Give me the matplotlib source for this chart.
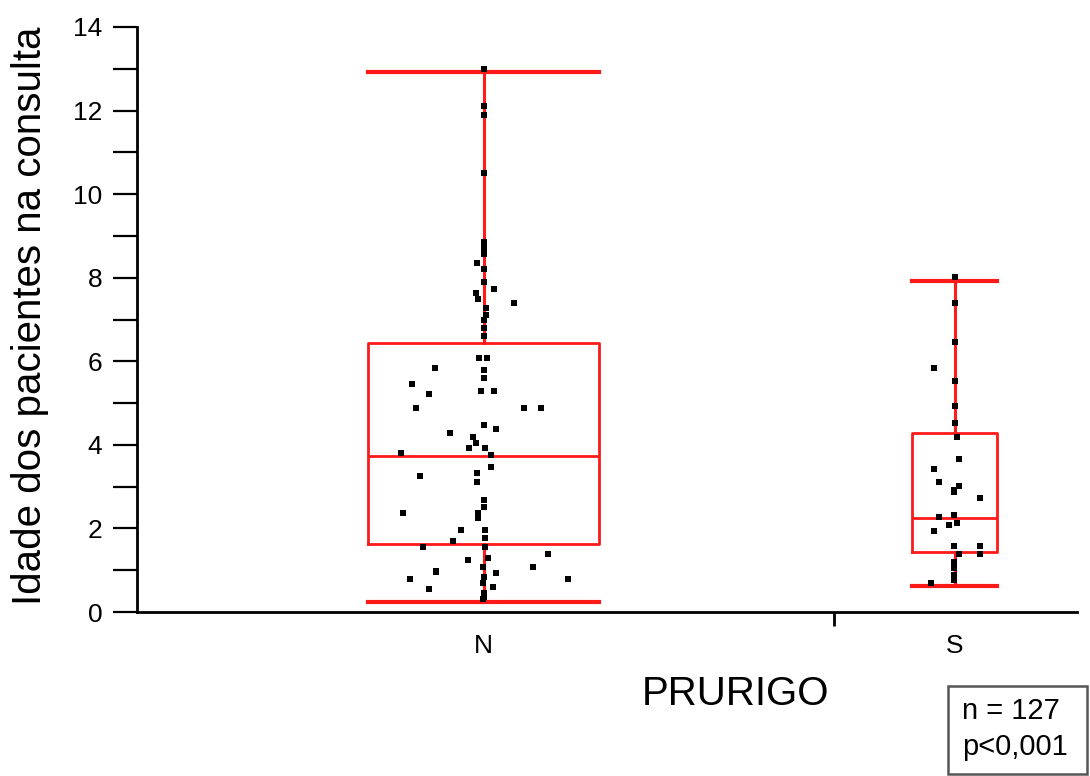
import numpy as np
import matplotlib.pyplot as plt
from matplotlib.ticker import MultipleLocator, FixedLocator
from matplotlib.patches import Rectangle

plt.rcParams['font.family'] = ['Liberation Sans', 'DejaVu Sans']

groups = ['N', 'S']
positions = [1, 2]

# box stats (whisker low, Q1, median, Q3, whisker high)
n_stats = [0.24, 1.63, 3.73, 6.44, 12.92]
s_stats = [0.62, 1.44, 2.25, 4.28, 7.92]

# scatter points: (offset from group centre, value)
n_dx = [0.0, 0.0, 0.0, 0.0, 0.0, 0.0, 0.0, -0.013, 0.0, 0.0, 0.021, -0.017, -0.011,
        0.064, 0.006, 0.006, 0.0, 0.0, 0.0,
        -0.009, 0.008, 0.0, 0.0, -0.104, -0.152, -0.117, -0.006, 0.021, -0.143,
        0.085, 0.121, 0.0, 0.026, -0.072, -0.023, -0.017, -0.032, 0.004, -0.175,
        0.015, 0.015, -0.013, -0.136, -0.013, 0.0, 0.0, -0.171, -0.011, -0.011,
        -0.049, 0.004, -0.064, 0.004, -0.128, 0.002, 0.136, -0.034, 0.009, 0.104,
        -0.102, -0.102, 0.026, -0.157, 0.179, -0.002, 0.0, -0.002, 0.019, -0.117,
        0.0, 0.0, -0.002]
n_val = [13.0, 12.1, 11.9, 10.5, 8.85, 8.7, 8.57, 8.35, 8.2, 7.9, 7.73, 7.63, 7.5,
         7.39, 7.27, 7.1, 7.0, 6.8, 6.6,
         6.08, 6.08, 5.79, 5.6, 5.84, 5.45, 5.22, 5.29, 5.29, 4.88,
         4.88, 4.88, 4.47, 4.38, 4.28, 4.19, 4.04, 3.92, 3.92, 3.8,
         3.76, 3.47, 3.33, 3.26, 3.11, 2.68, 2.51, 2.37, 2.37, 2.25,
         1.96, 1.96, 1.7, 1.77, 1.56, 1.56, 1.39, 1.24, 1.29, 1.08,
         0.99, 0.95, 0.93, 0.79, 0.79, 1.08, 0.84, 0.69, 0.6, 0.55,
         0.45, 0.36, 0.3]

s_dx = [0.0, 0.0, 0.0, -0.043, 0.0, 0.0, 0.0, 0.006, 0.009, -0.043, -0.032, 0.009,
        -0.002, -0.002, 0.053, -0.034, -0.002, -0.011, 0.006, -0.043, -0.002,
        0.053, 0.053, 0.009, -0.002, -0.002, -0.002, -0.002, -0.049]
s_val = [8.02, 7.39, 6.46, 5.84, 5.52, 4.93, 4.52, 4.19, 3.66, 3.42, 3.11, 3.02,
         2.92, 2.87, 2.73, 2.27, 2.32, 2.08, 2.13, 1.94, 1.58,
         1.58, 1.39, 1.39, 1.2, 1.05, 0.89, 0.77, 0.69]

red = '#ff1a1a'

fig = plt.figure(figsize=(10.9, 7.76), dpi=100)
ax = fig.add_axes([137 / 1090, 1 - 612 / 776, 940 / 1090, 585 / 776])

stats = []
for name, s in zip(groups, [n_stats, s_stats]):
    stats.append(dict(label=name, whislo=s[0], q1=s[1], med=s[2], q3=s[3], whishi=s[4], fliers=[]))

widths = [0.49, 0.18]
ax.bxp(stats, positions=positions, widths=widths, capwidths=widths, showfliers=False,
       boxprops=dict(color=red, lw=2),
       medianprops=dict(color=red, lw=2),
       whiskerprops=dict(color=red, lw=2.2),
       capprops=dict(color=red, lw=3))

ax.scatter(1 + np.array(n_dx), n_val, marker='s', s=18, color='black', zorder=5, lw=0)
ax.scatter(2 + np.array(s_dx), s_val, marker='s', s=18, color='black', zorder=5, lw=0)

ax.set_xlim(0.264, 2.26)
ax.set_ylim(0, 14)

for side in ['top', 'right']:
    ax.spines[side].set_visible(False)
ax.spines['left'].set_linewidth(2)
ax.spines['bottom'].set_linewidth(2)

ax.yaxis.set_major_locator(MultipleLocator(2))
ax.yaxis.set_minor_locator(MultipleLocator(1))
ax.tick_params(axis='y', which='both', length=17, width=1.6, pad=8, labelsize=19)

ax.set_xticks(positions)
ax.set_xticklabels(groups)
ax.xaxis.set_minor_locator(FixedLocator([1.743]))
ax.tick_params(axis='x', which='major', length=0, pad=16, labelsize=19)
ax.tick_params(axis='x', which='minor', length=10, width=2)

ax.set_ylabel('Idade dos pacientes na consulta', fontsize=29)
ax.yaxis.set_label_coords(-0.094, 0.506)
ax.set_xlabel('PRURIGO', fontsize=29)
ax.xaxis.set_label_coords(0.637, -0.108)

fig.patches.append(Rectangle((948 / 1090, 1 - 774 / 776), 139 / 1090, 88 / 776,
                             transform=fig.transFigure, fc='white', ec='#555555', lw=1.8))
fig.text(962 / 1090, 1 - 729 / 776, 'n = 127\np<0,001', fontsize=21, ha='left', va='center',
         linespacing=1.35)

fig.savefig('out.png', dpi=100)
